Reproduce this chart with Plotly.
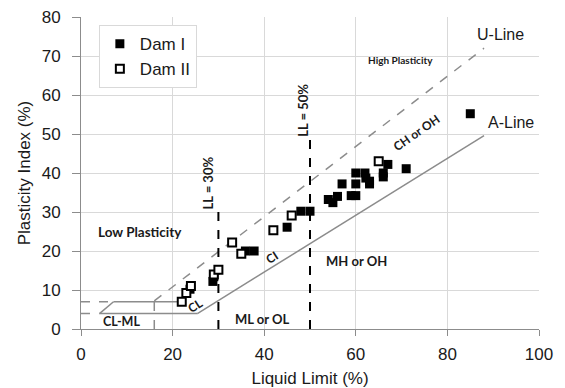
import plotly.graph_objects as go

# Plasticity chart data: liquid limit (LL, %) and plasticity index (PI, %)
dam1_ll = [23.8, 28.8, 29.0, 35.9, 37.8, 45.0, 48.0, 50.0, 54.0, 55.0, 56.0, 57.0,
           59.0, 60.0, 60.0, 60.0, 62.0, 62.2, 63.0, 63.0, 66.0, 66.0, 67.0, 71.0, 85.0]
dam1_pi = [10.2, 12.2, 13.4, 20.0, 20.0, 26.1, 30.2, 30.2, 33.2, 32.4, 34.0, 37.2,
           34.2, 34.2, 37.2, 40.0, 40.0, 38.7, 37.9, 37.2, 40.0, 39.0, 42.2, 41.1, 55.2]

dam2_ll = [22.0, 23.0, 24.0, 29.0, 30.0, 33.0, 35.0, 42.0, 46.0, 65.0]
dam2_pi = [7.0, 9.2, 11.0, 14.0, 15.2, 22.2, 19.3, 25.3, 29.1, 43.0]

# Reference lines of the chart (end points)
u_line_ll = [16, 88]
u_line_pi = [7.2, 72]
a_line_ll = [25.5, 88]
a_line_pi = [4, 49.6]

# CL-ML band boundaries
band_solid_ll = [[4.1, 25.5], [4.1, 7.1], [7.1, 22.5]]
band_solid_pi = [[4, 4], [4, 7], [7, 7]]
band_dash_ll = [[0, 4.1], [0, 7.1], [16, 16]]
band_dash_pi = [[4, 4], [7, 7], [0, 7]]

# Liquid limit divisions
ll_div_x = [[30, 30], [50, 50]]
ll_div_y = [[0, 30], [0, 50]]

x_ticks = [0, 20, 40, 60, 80, 100]
y_ticks = [0, 10, 20, 30, 40, 50, 60, 70, 80]

GREY = "#8c8c8c"
TXT = "#1a1a1a"

fig = go.Figure()

for xs, ys in zip(band_dash_ll, band_dash_pi):
    fig.add_trace(go.Scatter(x=xs, y=ys, mode="lines", showlegend=False, hoverinfo="skip",
                             line=dict(color=GREY, width=1.5, dash="dash")))
for xs, ys in zip(band_solid_ll, band_solid_pi):
    fig.add_trace(go.Scatter(x=xs, y=ys, mode="lines", showlegend=False, hoverinfo="skip",
                             line=dict(color=GREY, width=1.5)))

fig.add_trace(go.Scatter(x=u_line_ll, y=u_line_pi, mode="lines", showlegend=False,
                         line=dict(color=GREY, width=1.5, dash="dash")))
fig.add_trace(go.Scatter(x=a_line_ll, y=a_line_pi, mode="lines", showlegend=False,
                         line=dict(color=GREY, width=1.5)))

for xs, ys in zip(ll_div_x, ll_div_y):
    fig.add_trace(go.Scatter(x=xs, y=ys, mode="lines", showlegend=False,
                             line=dict(color="black", width=2, dash="dash")))

fig.add_trace(go.Scatter(x=dam1_ll, y=dam1_pi, mode="markers", name="Dam I",
                         marker=dict(symbol="square", size=9, color="black",
                                     line=dict(color="black", width=0))))
fig.add_trace(go.Scatter(x=dam2_ll, y=dam2_pi, mode="markers", name="Dam II",
                         marker=dict(symbol="square", size=8, color="white",
                                     line=dict(color="black", width=2))))

bold = dict(family="Lato, 'Open Sans', sans-serif", color=TXT)
plain = dict(family="'Liberation Sans', Arial, sans-serif", color=TXT)

def note(x, y, text, size, font, angle=0):
    fig.add_annotation(x=x, y=y, text=text, showarrow=False, textangle=angle,
                       font=dict(size=size, **font), xref="x", yref="y")

note(91.5, 75.6, "U-Line", 16, plain)
note(93.9, 53.0, "A-Line", 16, plain)
note(69.7, 68.9, "<b>High Plasticity</b>", 10, bold)
note(12.9, 25.0, "<b>Low Plasticity</b>", 13.5, bold)
note(73.3, 50.3, "<b>CH or OH</b>", 12, bold, -35)
note(60.2, 17.5, "<b>MH or OH</b>", 13, bold)
note(39.7, 2.6, "<b>ML or OL</b>", 13, bold)
note(8.9, 2.0, "<b>CL-ML</b>", 12.5, bold)
note(25.0, 6.0, "<b>CL</b>", 12, bold, -33)
note(41.6, 18.4, "<b>CI</b>", 12, bold, -33)
note(27.7, 37.5, "<b>LL = 30%</b>", 13, bold, -90)
note(48.3, 56.0, "<b>LL = 50%</b>", 13, bold, -90)

axis_common = dict(showline=True, linecolor=GREY, linewidth=1, ticks="outside",
                   tickcolor=GREY, gridcolor="#d9d9d9", gridwidth=1,
                   zeroline=False, automargin=False, tickfont=dict(size=17, **plain),
                   title_font=dict(size=17, **plain))

fig.update_xaxes(range=[0, 100], tickvals=x_ticks, title_text="Liquid Limit (%)",
                 ticklen=6, ticklabelstandoff=4, title_standoff=8, **axis_common)
fig.update_yaxes(range=[0, 80], tickvals=y_ticks, title_text="Plasticity Index (%)",
                 ticklen=8, ticklabelstandoff=8, title_standoff=6, **axis_common)

fig.update_layout(
    width=565, height=388,
    margin=dict(l=81, r=26, t=17, b=59),
    paper_bgcolor="white", plot_bgcolor="white",
    legend=dict(x=0.039, y=0.974, xanchor="left", yanchor="top",
                bgcolor="white", bordercolor="#d9d9d9", borderwidth=1,
                entrywidth=80, entrywidthmode="pixels",
                font=dict(size=17, **plain), tracegroupgap=8),
)

fig.write_html("out.html")
